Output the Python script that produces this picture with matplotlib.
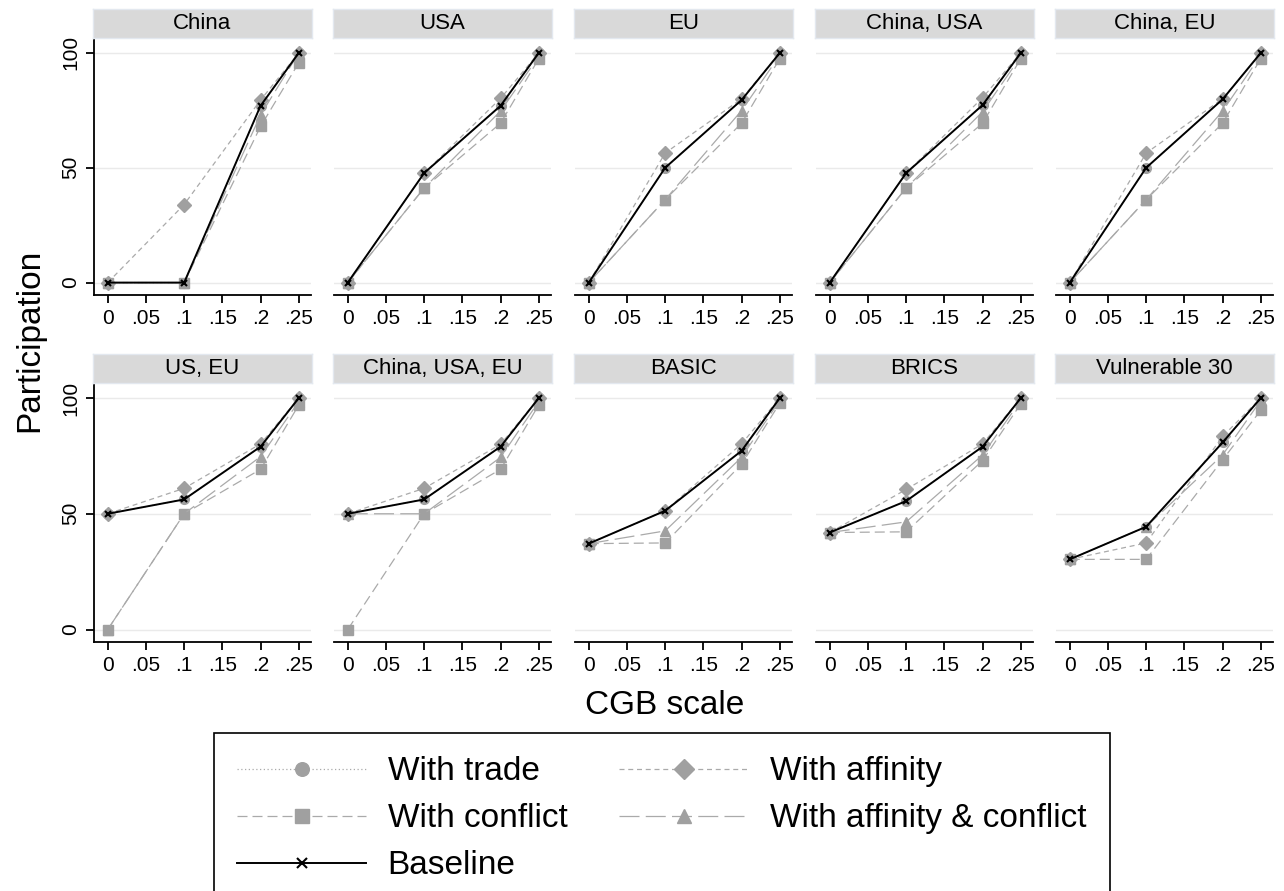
import matplotlib
matplotlib.use("Agg")
import matplotlib.pyplot as plt

plt.rcParams['font.family'] = ['Liberation Sans', 'DejaVu Sans']

panels = ["China", "USA", "EU", "China, USA", "China, EU",
          "US, EU", "China, USA, EU", "BASIC", "BRICS", "Vulnerable 30"]
cgb = [0, 0.1, 0.2, 0.25]
xticks = [0, 0.05, 0.1, 0.15, 0.2, 0.25]
xticklabels = ["0", ".05", ".1", ".15", ".2", ".25"]

baseline = [[0, 0, 77, 100], [0, 47.7, 77, 100], [0, 50, 79.5, 100],
            [0, 47.7, 77.3, 100], [0, 50, 79.8, 100], [50, 56.2, 79, 100],
            [50, 56.2, 79, 100], [37.1, 51.3, 77.2, 100], [41.9, 55.5, 79, 100],
            [30.3, 44.4, 80.8, 100]]
trade = [[0, 0, 77, 100], [0, 47.7, 77, 100], [0, 50, 79.5, 100],
         [0, 47.7, 77.3, 100], [0, 50, 79.8, 100], [50, 56.2, 79, 100],
         [50, 56.2, 79, 100], [37.1, 51.3, 77.2, 100], [41.9, 55.5, 79, 100],
         [30.3, 44.4, 80.8, 100]]
affinity = [[0, 34, 79.5, 100], [0, 47.7, 80.2, 100], [0, 56.4, 80, 100],
            [0, 47.7, 80.5, 100], [0, 56.4, 80, 100], [50, 61, 80.2, 100],
            [50, 61, 80, 100], [37.1, 51.3, 80.2, 100], [41.9, 60.5, 80.2, 100],
            [30.3, 37.4, 83.4, 100]]
conflict = [[0, 0, 68, 95.7], [0, 41.2, 69.4, 97.5], [0, 36.1, 69.4, 97.5],
            [0, 41.2, 69.4, 97.5], [0, 36.1, 69.4, 97.5], [0, 50, 69.2, 97],
            [0, 50, 69.2, 97], [37.1, 37.4, 71.4, 97.8], [41.9, 42.2, 73, 97.5],
            [30.3, 30.3, 73.3, 94.7]]
aff_conf = [[0, 0, 73, 100], [0, 41.2, 74.7, 98.5], [0, 36.1, 74.9, 99],
            [0, 41.2, 74.4, 98.5], [0, 36.1, 74.7, 99], [0, 50, 74.7, 98.5],
            [50, 50, 74.4, 98.5], [37.1, 42.6, 74.4, 99], [41.9, 46.5, 75.4, 99],
            [30.3, 44.4, 75.4, 99]]

W, H = 1284, 891
fig = plt.figure(figsize=(W / 100, H / 100), dpi=100)

grey = '#a0a0a0'
lgrey = '#aaaaaa'

# pixel layout of the panels
lefts = [94, 334, 575, 816, 1056]
pw = 217
rows = [(38, 295), (383, 642)]
strip_h = 29

handles = None
for i, name in enumerate(panels):
    r, c = divmod(i, 5)
    top, bot = rows[r]
    ax = fig.add_axes([lefts[c] / W, 1 - bot / H, pw / W, (bot - top) / H])
    sax = fig.add_axes([(lefts[c] - 1) / W, 1 - top / H, (pw + 2) / W, strip_h / H])
    sax.set_facecolor('#d9d9d9')
    for s in sax.spines.values():
        s.set_edgecolor('#e3e8ef')
        s.set_linewidth(1)
    sax.set_xticks([])
    sax.set_yticks([])
    sax.text(0.5, 0.5, name, ha='center', va='center', fontsize=16,
             transform=sax.transAxes)

    l1, = ax.plot(cgb, trade[i], color=lgrey, lw=0.9, ls=(0, (1, 2)),
                  marker='o', ms=7, mfc=grey, mec=grey, label='With trade')
    l2, = ax.plot(cgb, affinity[i], color=lgrey, lw=0.9, ls=(0, (4, 3)),
                  marker='D', ms=7, mfc=grey, mec=grey, label='With affinity')
    l3, = ax.plot(cgb, conflict[i], color=lgrey, lw=0.9, ls=(0, (8, 4)),
                  marker='s', ms=7.5, mfc=grey, mec=grey, label='With conflict')
    l4, = ax.plot(cgb, aff_conf[i], color=lgrey, lw=0.9, ls=(0, (16, 5)),
                  marker='^', ms=7.5, mfc=grey, mec=grey,
                  label='With affinity & conflict')
    l5, = ax.plot(cgb, baseline[i], color='black', lw=1.4, marker='x',
                  ms=5, mew=1.5, label='Baseline')
    if handles is None:
        handles = [l1, l3, l5, l2, l4]

    ax.set_xlim(-0.018, 0.266)
    ax.set_ylim(-5.4, 106.5)
    ax.set_yticks([0, 50, 100])
    ax.yaxis.grid(True, color='#eaeaea', lw=1)
    ax.set_axisbelow(True)
    ax.set_xticks(xticks)
    ax.set_xticklabels(xticklabels, fontsize=15)
    ax.tick_params(axis='x', length=6, width=1.3, pad=4)
    for s in ['top', 'right']:
        ax.spines[s].set_visible(False)
    ax.spines['bottom'].set_linewidth(1.3)
    if c == 0:
        ax.spines['left'].set_linewidth(1.3)
        ax.set_yticklabels(["0", "50", "100"], fontsize=15, rotation=90,
                           va='center')
        ax.tick_params(axis='y', length=6, width=1.3, pad=4)
    else:
        ax.spines['left'].set_visible(False)
        ax.tick_params(axis='y', length=0, labelleft=False)

fig.text(30 / W, 1 - 340 / H, 'Participation', rotation=90, ha='center',
         va='center', fontsize=24)
fig.text(665 / W, 1 - 705 / H, 'CGB scale', ha='center', va='center',
         fontsize=24)

leg = fig.legend(handles=handles, loc='upper left',
                 bbox_to_anchor=(214 / W, 1 - 733 / H), ncol=2, fontsize=24,
                 frameon=True, fancybox=False, edgecolor='black',
                 framealpha=1, handlelength=3.85, handletextpad=0.66,
                 columnspacing=1.56, labelspacing=0.48, numpoints=1,
                 markerscale=1.4, borderpad=0.7, borderaxespad=0)
leg.get_frame().set_linewidth(1.2)

fig.savefig('out.png', dpi=100)
